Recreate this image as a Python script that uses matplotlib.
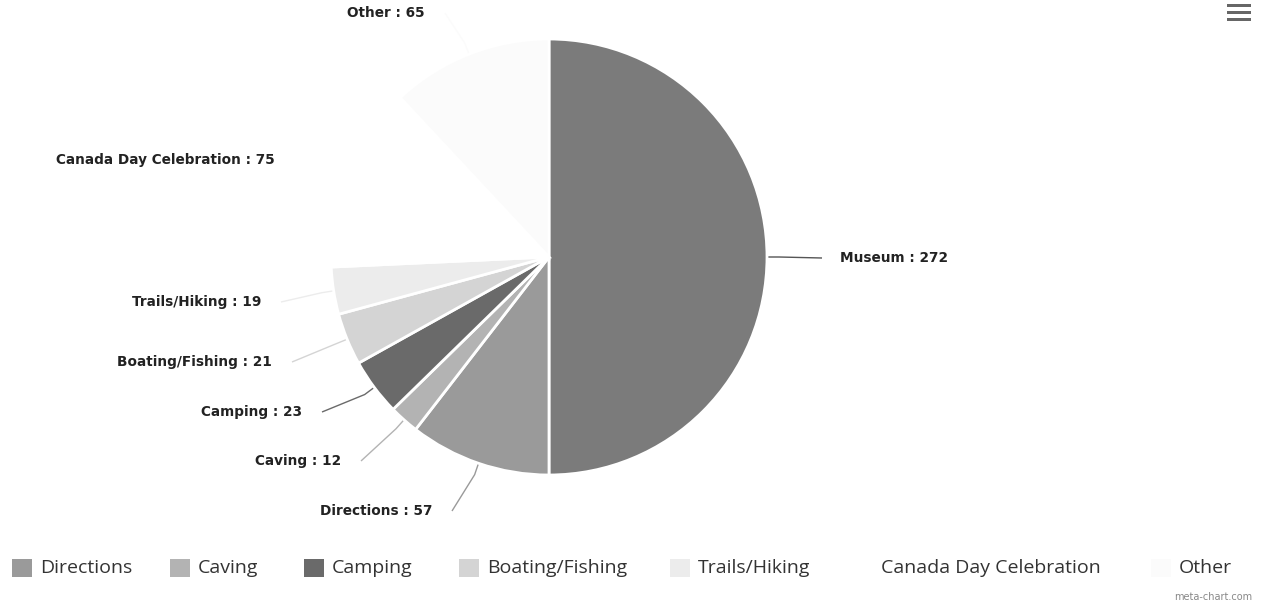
import matplotlib
matplotlib.use("Agg")
import matplotlib.pyplot as plt
from matplotlib.patches import Rectangle
import numpy as np

categories = ["Museum", "Directions", "Caving", "Camping", "Boating/Fishing",
              "Trails/Hiking", "Canada Day Celebration", "Other"]
values = [272, 57, 12, 23, 21, 19, 75, 65]
colors = ["#7b7b7b", "#9a9a9a", "#b3b3b3", "#6a6a6a", "#d4d4d4",
          "#ececec", "#ffffff", "#fbfbfb"]
legend_order = ["Directions", "Caving", "Camping", "Boating/Fishing",
                "Trails/Hiking", "Canada Day Celebration", "Other"]

W, H = 1264, 603
fig = plt.figure(figsize=(W / 100, H / 100), dpi=100)
ax = fig.add_axes([0, 0, 1, 1])

cx, cy, R = 549, H - 257, 218
wedges, _ = ax.pie(values, colors=colors, startangle=90, counterclock=False,
                   center=(cx, cy), radius=R,
                   wedgeprops=dict(edgecolor="white", linewidth=2))
ax.set_xlim(0, W)
ax.set_ylim(0, H)
ax.set_aspect("equal")
ax.axis("off")

# label layout (pixel positions, top-origin y); side: 'L' right-aligned, 'R' left-aligned
label_layout = {
    "Museum": (840, 258, "R"),
    "Directions": (432, 511, "L"),
    "Caving": (341, 461, "L"),
    "Camping": (302, 412, "L"),
    "Boating/Fishing": (272, 362, "L"),
    "Trails/Hiking": (261, 302, "L"),
    "Canada Day Celebration": (275, 160, "L"),
    "Other": (425, 13, "L"),
}

for w, name, val, col in zip(wedges, categories, values, colors):
    ang = np.deg2rad((w.theta1 + w.theta2) / 2)
    ex, ey = cx + R * np.cos(ang), cy + R * np.sin(ang)
    mx, my = cx + (R + 12) * np.cos(ang), cy + (R + 12) * np.sin(ang)
    lx, ly, side = label_layout[name]
    ly = H - ly
    if side == "R":
        tx = lx - 18
        ax.text(lx, ly, f"{name} : {val}", ha="left", va="center",
                fontsize=9.8, fontweight="bold", color="#222222",
                family="DejaVu Sans")
    else:
        tx = lx + 20
        ax.text(lx, ly, f"{name} : {val}", ha="right", va="center",
                fontsize=9.8, fontweight="bold", color="#222222",
                family="DejaVu Sans")
    ccol = "#555555" if name == "Museum" else col
    ax.plot([ex, mx, tx], [ey, my, ly], color=ccol, lw=1.0,
            solid_capstyle="butt", zorder=0.5)

# legend
leg_x = [12, 170, 304, 459, 670, 853, 1151]
leg_y = H - 568
for x, name in zip(leg_x, legend_order):
    col = colors[categories.index(name)]
    ax.add_patch(Rectangle((x, leg_y - 9), 20, 18, facecolor=col,
                           edgecolor="none"))
    ax.text(x + 28, leg_y, name, ha="left", va="center", fontsize=14,
            color="#333333", family="Open Sans")

ax.text(1252, H - 597, "meta-chart.com", ha="right", va="center",
        fontsize=7, color="#888888", family="DejaVu Sans")

# menu icon
for yy in (4, 11, 18):
    ax.add_patch(Rectangle((1227, H - yy - 3), 24, 3, facecolor="#666666",
                           edgecolor="none"))

fig.savefig("out.png", dpi=100, facecolor="white")
